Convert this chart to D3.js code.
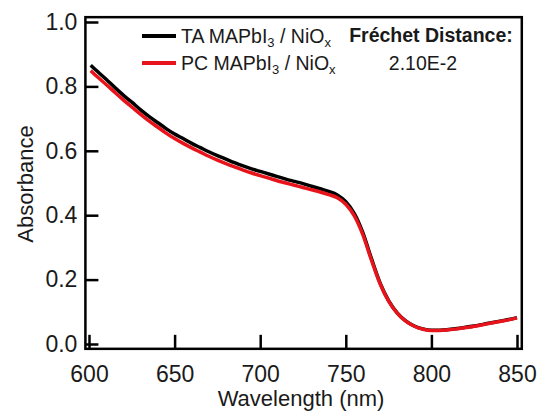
<!DOCTYPE html>
<html>
<head>
<meta charset="utf-8">
<script src="https://cdn.jsdelivr.net/npm/d3@7"></script>
<style>
  html, body { margin: 0; padding: 0; background: #fff; }
  svg { display: block; font-family: "Liberation Sans", Arial, sans-serif; }
</style>
</head>
<body>
<div id="chart"></div>
<script>
// wavelength grid (nm)
var WAVELENGTH = [
  601, 605, 610, 615, 620, 625, 630, 635, 640, 645,
  650, 655, 660, 665, 670, 675, 680, 685, 690, 695,
  700, 705, 710, 715, 720, 725, 730, 735, 740, 745,
  750, 755, 760, 765, 770, 775, 780, 785, 790, 795,
  800, 805, 810, 815, 820, 825, 830, 835, 840, 845, 850
];

// TA MAPbI3 / NiOx
var TA_ABS = [
  0.866, 0.846, 0.822, 0.797, 0.773, 0.751, 0.728, 0.707, 0.688, 0.669,
  0.652, 0.638, 0.623, 0.610, 0.597, 0.585, 0.574, 0.563, 0.553, 0.544,
  0.536, 0.528, 0.520, 0.512, 0.505, 0.498, 0.490, 0.482, 0.474, 0.463,
  0.442, 0.405, 0.345, 0.265, 0.190, 0.135, 0.097, 0.072, 0.056, 0.047,
  0.043, 0.043, 0.045, 0.048, 0.052, 0.056, 0.061, 0.066, 0.071, 0.076, 0.082
];

// PC MAPbI3 / NiOx
var PC_ABS = [
  0.849, 0.829, 0.806, 0.782, 0.758, 0.736, 0.714, 0.693, 0.674, 0.655,
  0.638, 0.623, 0.609, 0.596, 0.583, 0.571, 0.560, 0.550, 0.540, 0.531,
  0.523, 0.515, 0.507, 0.500, 0.493, 0.486, 0.479, 0.472, 0.464, 0.454,
  0.434, 0.398, 0.339, 0.260, 0.187, 0.133, 0.096, 0.071, 0.055, 0.046,
  0.042, 0.042, 0.044, 0.047, 0.051, 0.055, 0.060, 0.065, 0.070, 0.075, 0.081
];

var X_TICKS = [600, 650, 700, 750, 800, 850];
var Y_TICKS = [0.0, 0.2, 0.4, 0.6, 0.8, 1.0];

var SERIES = [
  { name: "TA", values: TA_ABS, color: "#000000" },
  { name: "PC", values: PC_ABS, color: "#e8141b" }
];

var FRECHET_LABEL = "Fréchet Distance:";
var FRECHET_VALUE = "2.10E-2";

(function () {
  var W = 541, H = 413;
  var TXT = "#1a1a1a";

  var svg = d3.select("#chart").append("svg")
    .attr("width", W).attr("height", H);

  var x = d3.scaleLinear().domain([600, 850]).range([89, 517]);
  var y = d3.scaleLinear().domain([0, 1]).range([344, 22]);

  var fx0 = x(597.9), fx1 = x(852.8);
  var fy0 = y(1.015), fy1 = y(-0.015);

  /* ── series ─────────────────────────────────── */
  var line = d3.line()
    .x(function (d) { return x(d[0]); })
    .y(function (d) { return y(d[1]); })
    .curve(d3.curveMonotoneX);

  SERIES.forEach(function (s) {
    var pts = WAVELENGTH.map(function (w, i) { return [w, s.values[i]]; });
    svg.append("path")
      .datum(pts)
      .attr("fill", "none")
      .attr("stroke", s.color)
      .attr("stroke-width", 3.5)
      .attr("stroke-linejoin", "round")
      .attr("d", line);
  });

  /* ── frame ──────────────────────────────────── */
  svg.append("rect")
    .attr("x", fx0).attr("y", fy0)
    .attr("width", fx1 - fx0).attr("height", fy1 - fy0)
    .attr("fill", "none")
    .attr("stroke", "#000")
    .attr("stroke-width", 2.5);

  /* ── axes (ticks inward) ────────────────────── */
  var xAxis = svg.append("g")
    .attr("transform", "translate(0," + fy1 + ")")
    .call(d3.axisBottom(x).tickValues(X_TICKS).tickSize(-14).tickPadding(18)
      .tickFormat(d3.format("d")));

  var yAxis = svg.append("g")
    .attr("transform", "translate(" + fx0 + ",0)")
    .call(d3.axisLeft(y).tickValues(Y_TICKS).tickSize(-13).tickPadding(8)
      .tickFormat(d3.format(".1f")));

  [xAxis, yAxis].forEach(function (g) {
    g.select(".domain").remove();
    g.selectAll(".tick line").attr("stroke", "#000").attr("stroke-width", 2.5);
    g.selectAll(".tick text")
      .attr("fill", TXT)
      .style("font-size", "23px")
      .style("font-family", "'Liberation Sans', Arial, sans-serif");
  });
  xAxis.selectAll(".tick text").attr("dy", "0.68em");

  /* ── axis titles ────────────────────────────── */
  svg.append("text")
    .attr("x", 301).attr("y", 406)
    .attr("text-anchor", "middle")
    .attr("fill", TXT)
    .style("font-size", "22px")
    .text("Wavelength (nm)");

  svg.append("text")
    .attr("transform", "translate(33,184) rotate(-90)")
    .attr("text-anchor", "middle")
    .attr("fill", TXT)
    .style("font-size", "22px")
    .text("Absorbance");

  /* ── legend ─────────────────────────────────── */
  var rows = [36, 63];
  SERIES.forEach(function (s, i) {
    var g = svg.append("g").attr("transform", "translate(0," + rows[i] + ")");
    g.append("line")
      .attr("x1", 142).attr("x2", 176)
      .attr("stroke", s.color).attr("stroke-width", 4);
    var t = g.append("text")
      .attr("x", 181).attr("y", 6.5)
      .attr("fill", TXT)
      .style("font-size", "19.5px");
    t.append("tspan").text(s.name + " MAPbI");
    t.append("tspan").attr("dy", 4).style("font-size", "13px").text("3");
    t.append("tspan").attr("dy", -4).text(" / NiO");
    t.append("tspan").attr("dy", 4).style("font-size", "13px").text("x");
  });

  svg.append("text")
    .attr("x", 431).attr("y", 42)
    .attr("text-anchor", "middle")
    .attr("fill", TXT)
    .style("font-size", "19.5px")
    .style("font-weight", "bold")
    .text(FRECHET_LABEL);

  svg.append("text")
    .attr("x", 423).attr("y", 70)
    .attr("text-anchor", "middle")
    .attr("fill", TXT)
    .style("font-size", "19.5px")
    .text(FRECHET_VALUE);
}());
</script>
</body>
</html>
